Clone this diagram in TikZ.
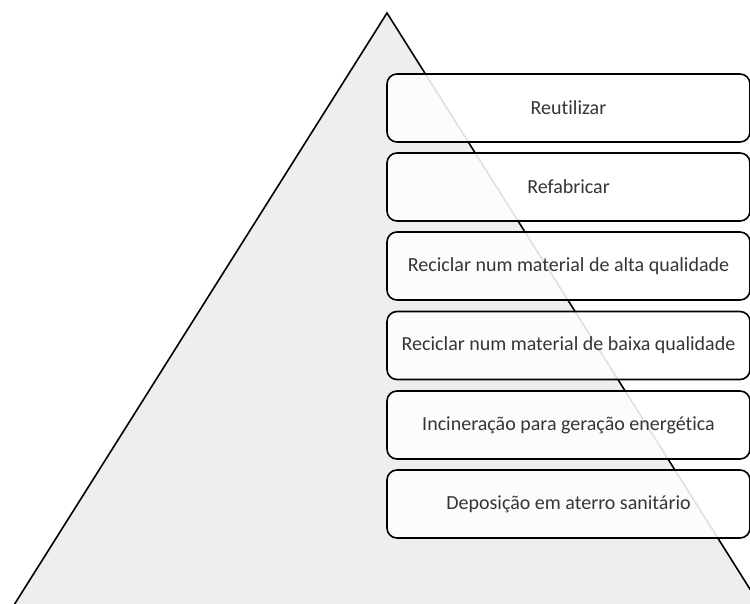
\documentclass[tikz,border=0pt]{standalone}
\usepackage{fontspec}
\setmainfont{Carlito}[Ligatures=NoCommon]
\definecolor{tri}{HTML}{EEEEEE}
\definecolor{txt}{HTML}{353535}
\tikzset{
  level/.style={draw=black, line width=1.6pt, rounded corners=10pt, fill=white, fill opacity=0.88, text opacity=1,
    minimum width=363pt, minimum height=68pt, text=txt, font=\fontsize{20}{24}\selectfont, inner sep=0pt},
  pyr/.style={draw=black, line width=1.6pt, fill=tri}
}
\begin{document}
\begin{tikzpicture}[x=1pt,y=1pt]
\useasboundingbox (0,0) rectangle (750,603);
\begin{scope}
\clip (0,0) rectangle (750,603);
\coordinate (apex) at (387,590);
\coordinate (bl) at (14,-2);
\coordinate (br) at (760,-2);
\draw[pyr] (bl) -- (apex) -- (br);
\end{scope}
\node[level] (b1) at (568.5,495) {Reutilizar};
\node[level] (b2) at (568.5,416) {Refabricar};
\node[level] (b3) at (568.5,337) {Reciclar num material de alta qualidade};
\node[level] (b4) at (568.5,257.5) {Reciclar num material de baixa qualidade};
\node[level] (b5) at (568.5,178) {Incineração para geração energética};
\node[level] (b6) at (568.5,99) {Deposição em aterro sanitário};
\end{tikzpicture}
\end{document}
